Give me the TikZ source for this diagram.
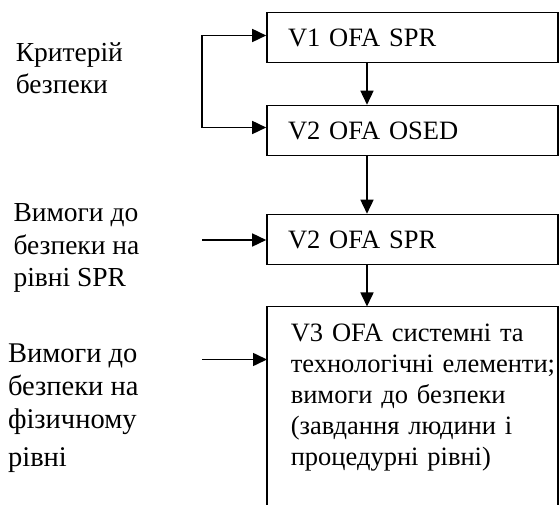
\documentclass[tikz,border=0pt]{standalone}
\usepackage{fontspec}
\setmainfont{Liberation Serif}
\usetikzlibrary{arrows.meta}
\begin{document}
\begin{tikzpicture}[x=1pt, y=-1pt,
  line width=1.6pt,
  arr/.style={-{Triangle[length=14pt,width=13pt]}},
  box/.style={draw, minimum width=291pt, minimum height=50pt,
    inner xsep=21pt, text width=249pt, align=left,
    font=\fontsize{26.5}{30.5}\selectfont},
  side/.style={inner sep=0pt, align=left, anchor=base west,
    font=\fontsize{27.5}{32.5}\selectfont}]
\useasboundingbox (0,0) rectangle (560,505);

% vertical axis of the main flow
\coordinate (axis) at (367,0);

% process boxes
\node[box] (b1) at (412.5,37.5) {V1 OFA SPR};
\node[box] (b2) at (412.5,130.5) {V2 OFA OSED};
\node[box] (b3) at (412.5,239.5) {V2 OFA SPR};
\node[inner xsep=23pt, inner ysep=0pt, text width=266pt, align=left,
  anchor=base west, font=\fontsize{26.5}{31}\selectfont]
  (b4) at (267,341.7) {V3 OFA системні та\\технологічні елементи;\\вимоги до безпеки\\(завдання людини і\\процедурні рівні)};
% open-bottomed frame of the last box
\coordinate (b4nw) at (267,306.5);
\coordinate (b4ne) at (558,306.5);
\draw (b4nw |- 0,506) -- (b4nw) -- (b4ne) -- (b4ne |- 0,506);

% side inputs (base anchor sits on the last line)
\node[side] (crit) at (15,94) {Критерій\\безпеки};
\node[side] (req3) at (12.7,286.7) {Вимоги до\\безпеки на\\рівні SPR};
\node[side, font=\fontsize{28.5}{33}\selectfont] (req4) at (7.3,466.7)
  {Вимоги до\\безпеки на\\фізичному\\[5pt]рівні};

% main flow
\draw[arr] (b1.south -| axis) -- (b2.north -| axis);
\draw[arr] (b2.south -| axis) -- (b3.north -| axis);
\draw[arr] (b3.south -| axis) -- (b4nw -| axis);

% criterion feedback bracket
\coordinate (fbtop) at (202,35.5);
\coordinate (fbbot) at (202,127.5);
\draw[arr] (fbtop) -- (fbtop -| b1.west);
\draw[arr] (fbtop) -- (fbbot) -- (fbbot -| b2.west);

% requirement inputs
\coordinate (in3) at (202,240);
\coordinate (in4) at (202,359.5);
\draw[arr] (in3) -- (in3 -| b3.west);
\draw[arr] (in4) -- (in4 -| b4nw);
\end{tikzpicture}
\end{document}
